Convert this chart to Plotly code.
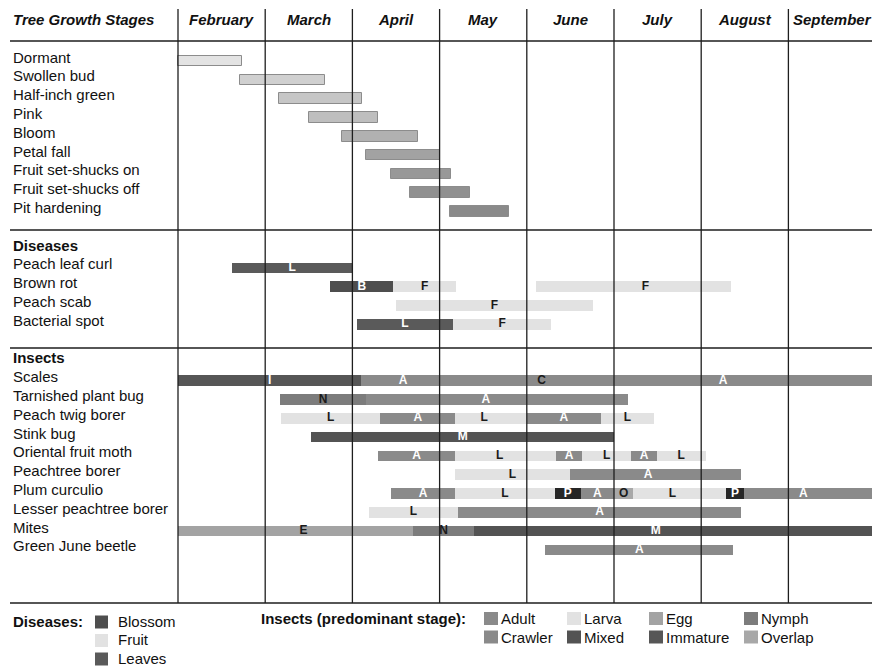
import plotly.graph_objects as go

# ---------------- data ----------------
months = ["February", "March", "April", "May", "June", "July", "August", "September"]

tree_stages = ["Dormant", "Swollen bud", "Half-inch green", "Pink", "Bloom",
               "Petal fall", "Fruit set-shucks on", "Fruit set-shucks off", "Pit hardening"]
tree_start = [0.00, 0.715, 1.155, 1.50, 1.88, 2.155, 2.44, 2.66, 3.12]
tree_end = [0.73, 1.69, 2.11, 2.29, 2.755, 3.00, 3.13, 3.35, 3.80]
tree_colors = ["#e3e3e3", "#d0d0d0", "#c6c6c6", "#bebebe", "#b1b1b1",
               "#a2a2a2", "#989898", "#909090", "#8a8a8a"]

disease_names = ["Peach leaf curl", "Brown rot", "Peach scab", "Bacterial spot"]
# (start, end, stage, label position or None = centre), months from 1 Feb
disease_segments = [
    [(0.62, 2.00, "Leaves", None)],
    [(1.745, 2.47, "Blossom", None), (2.47, 3.19, "Fruit", None), (4.10, 6.34, "Fruit", 5.36)],
    [(2.50, 4.76, "Fruit", None)],
    [(2.05, 3.155, "Leaves", None), (3.155, 4.28, "Fruit", None)],
]

insect_names = ["Scales", "Tarnished plant bug", "Peach twig borer", "Stink bug",
                "Oriental fruit moth", "Peachtree borer", "Plum curculio",
                "Lesser peachtree borer", "Mites", "Green June beetle"]
insect_segments = [
    [(0.00, 2.10, "Immature", None), (2.10, 3.06, "Adult", None),
     (3.06, 5.28, "Crawler", None), (5.28, 8.00, "Adult", 6.25)],
    [(1.17, 2.155, "Nymph", None), (2.155, 5.16, "Adult", 3.53)],
    [(1.18, 2.32, "Larva", None), (2.32, 3.18, "Adult", None), (3.18, 4.00, "Larva", 3.51),
     (4.00, 4.85, "Adult", None), (4.85, 5.46, "Larva", None)],
    [(1.53, 5.00, "Mixed", None)],
    [(2.29, 3.18, "Adult", None), (3.18, 4.34, "Larva", 3.69), (4.34, 4.63, "Adult", None),
     (4.63, 5.20, "Larva", None), (5.20, 5.49, "Adult", None), (5.49, 6.05, "Larva", None)],
    [(3.18, 4.49, "Larva", None), (4.49, 6.46, "Adult", 5.39)],
    [(2.44, 3.18, "Adult", None), (3.18, 4.32, "Larva", None), (4.32, 4.62, "Pupa", None),
     (4.62, 5.00, "Adult", None), (5.00, 5.22, "Overlap", None), (5.22, 6.28, "Larva", 5.67),
     (6.28, 6.495, "Pupa", None), (6.495, 8.00, "Adult", 7.17)],
    [(2.19, 3.21, "Larva", None), (3.21, 6.46, "Adult", None)],
    [(0.00, 2.69, "Egg", 1.44), (2.69, 3.40, "Nymph", None), (3.40, 8.00, "Mixed", 5.48)],
    [(4.21, 6.37, "Adult", None)],
]

stage_letter = {"Adult": "A", "Crawler": "C", "Larva": "L", "Egg": "E", "Nymph": "N",
                "Mixed": "M", "Immature": "I", "Overlap": "O", "Pupa": "P",
                "Blossom": "B", "Fruit": "F", "Leaves": "L"}

disease_legend = ["Blossom", "Fruit", "Leaves"]
insect_legend_row1 = ["Adult", "Larva", "Egg", "Nymph"]
insect_legend_row2 = ["Crawler", "Mixed", "Immature", "Overlap"]

# ---------------- styles ----------------
stage_color = {"Adult": "#8a8a8a", "Crawler": "#8a8a8a", "Larva": "#e2e2e2", "Egg": "#a3a3a3",
               "Nymph": "#7c7c7c", "Mixed": "#535353", "Immature": "#565656", "Overlap": "#a8a8a8",
               "Pupa": "#262626", "Blossom": "#4e4e4e", "Fruit": "#e2e2e2", "Leaves": "#5a5a5a"}
letter_color = {"Adult": "white", "Crawler": "#1a1a1a", "Larva": "#1a1a1a", "Egg": "#1a1a1a",
                "Nymph": "#1a1a1a", "Mixed": "white", "Immature": "white", "Overlap": "#1a1a1a",
                "Pupa": "white", "Blossom": "white", "Fruit": "#1a1a1a", "Leaves": "white"}

W, H = 872, 666
FONT = "Liberation Sans, Arial, Helvetica, sans-serif"
X0_PX, MONTH_PX = 178.0, 87.2          # x-axis: month 0 (1 Feb) at 178 px
ROW0_PX, ROW_PX = 57.0, 18.8           # y-axis in row slots
BAR_OFF, BAR_W = 0.22, 0.57
LINE_C = "#1e1e1e"


def ypaper(px):
    return 1 - px / H


def xpaper(px):
    return px / W


# row slots
tree_slots = list(range(len(tree_stages)))
dis_header_slot = len(tree_stages) + 1
dis_slots = [dis_header_slot + 1 + i for i in range(len(disease_names))]
ins_header_slot = dis_slots[-1] + 2
ins_slots = [ins_header_slot + 1 + i for i in range(len(insect_names))]

fig = go.Figure()

# tree growth stage bars
fig.add_trace(go.Bar(
    orientation="h",
    y=[s + BAR_OFF for s in tree_slots],
    base=tree_start,
    x=[e - s for s, e in zip(tree_start, tree_end)],
    width=BAR_W,
    marker=dict(color=tree_colors, line=dict(color="#8c8c8c", width=1)),
    hoverinfo="skip", showlegend=False,
))

# diseases + insects segments
seg_y, seg_base, seg_len, seg_col = [], [], [], []
lab_x, lab_y, lab_t, lab_c = [], [], [], []
for slots, segs in ((dis_slots, disease_segments), (ins_slots, insect_segments)):
    for slot, row in zip(slots, segs):
        for start, end, stage, lx in row:
            seg_y.append(slot + BAR_OFF)
            seg_base.append(start)
            seg_len.append(end - start)
            seg_col.append(stage_color[stage])
            lab_x.append(lx if lx is not None else (start + end) / 2)
            lab_y.append(slot + BAR_OFF)
            lab_t.append(stage_letter[stage])
            lab_c.append(letter_color[stage])

fig.add_trace(go.Bar(
    orientation="h", y=seg_y, base=seg_base, x=seg_len, width=BAR_W,
    marker=dict(color=seg_col, line=dict(width=0)),
    hoverinfo="skip", showlegend=False,
))
fig.add_trace(go.Scatter(
    x=lab_x, y=lab_y, mode="text", text=lab_t,
    textfont=dict(family=FONT, size=12, color=lab_c, weight="bold"),
    textposition="middle center", hoverinfo="skip", showlegend=False,
))

shapes = []
annotations = []

# grid lines
for k in range(len(months)):
    shapes.append(dict(type="line", xref="x", yref="paper", x0=k, x1=k,
                       y0=ypaper(603), y1=ypaper(9), line=dict(color=LINE_C, width=1.3)))
for py in (41, 230, 348, 603):
    shapes.append(dict(type="line", xref="paper", yref="paper", x0=xpaper(10), x1=1,
                       y0=ypaper(py), y1=ypaper(py), line=dict(color=LINE_C, width=1.3)))

# header
annotations.append(dict(text="<b><i>Tree Growth Stages</i></b>", xref="paper", yref="paper",
                        x=xpaper(11), y=ypaper(20), xanchor="left", yanchor="middle",
                        showarrow=False, font=dict(family=FONT, size=15, color="#111")))
for k, m in enumerate(months):
    annotations.append(dict(text=f"<b><i>{m}</i></b>", xref="x", yref="paper",
                            x=k + 0.5, y=ypaper(20), xanchor="center", yanchor="middle",
                            showarrow=False, font=dict(family=FONT, size=15, color="#111")))


def row_label(text, slot, bold=False):
    annotations.append(dict(text=f"<b>{text}</b>" if bold else text, xref="paper", yref="y",
                            x=xpaper(11), y=slot, xanchor="left", yanchor="middle",
                            showarrow=False, font=dict(family=FONT, size=15, color="#111")))


for name, s in zip(tree_stages, tree_slots):
    row_label(name, s)
row_label("Diseases", dis_header_slot, bold=True)
for name, s in zip(disease_names, dis_slots):
    row_label(name, s)
row_label("Insects", ins_header_slot, bold=True)
for name, s in zip(insect_names, ins_slots):
    row_label(name, s)

# legend: diseases
annotations.append(dict(text="<b>Diseases:</b>", xref="paper", yref="paper",
                        x=xpaper(11), y=ypaper(621), xanchor="left", yanchor="middle",
                        showarrow=False, font=dict(family=FONT, size=15, color="#111")))
for i, st in enumerate(disease_legend):
    cy = 622 + i * 18.5
    shapes.append(dict(type="rect", xref="paper", yref="paper", x0=xpaper(95), x1=xpaper(108),
                       y0=ypaper(cy + 6.5), y1=ypaper(cy - 6.5),
                       fillcolor=stage_color[st], line=dict(width=0)))
    annotations.append(dict(text=st, xref="paper", yref="paper", x=xpaper(116), y=ypaper(cy - 1),
                            xanchor="left", yanchor="middle", showarrow=False,
                            font=dict(family=FONT, size=15, color="#111")))

# legend: insects
annotations.append(dict(text="<b>Insects (predominant stage):</b>", xref="paper", yref="paper",
                        x=xpaper(259), y=ypaper(618), xanchor="left", yanchor="middle",
                        showarrow=False, font=dict(family=FONT, size=15, color="#111")))
col_x = [484, 567, 649, 744]
for r, row in enumerate((insect_legend_row1, insect_legend_row2)):
    cy = 618.5 + r * 18.5
    for cx, st in zip(col_x, row):
        shapes.append(dict(type="rect", xref="paper", yref="paper", x0=xpaper(cx), x1=xpaper(cx + 14),
                           y0=ypaper(cy + 6.5), y1=ypaper(cy - 6.5),
                           fillcolor=stage_color[st], line=dict(width=0)))
        annotations.append(dict(text=st, xref="paper", yref="paper", x=xpaper(cx + 15), y=ypaper(cy),
                                xanchor="left", yanchor="middle", showarrow=False,
                                font=dict(family=FONT, size=15, color="#111")))

fig.update_layout(
    width=W, height=H,
    margin=dict(l=0, r=0, t=0, b=0),
    paper_bgcolor="white", plot_bgcolor="white",
    barmode="overlay", bargap=0,
    xaxis=dict(range=[-X0_PX / MONTH_PX, (W - X0_PX) / MONTH_PX], domain=[0, 1],
               showgrid=False, zeroline=False, showticklabels=False, ticks="", fixedrange=True),
    yaxis=dict(range=[(H - ROW0_PX) / ROW_PX, -ROW0_PX / ROW_PX], domain=[0, 1],
               showgrid=False, zeroline=False, showticklabels=False, ticks="", fixedrange=True),
    shapes=shapes, annotations=annotations,
    showlegend=False,
)

fig.write_html("out.html", config={"displayModeBar": False},
               post_script="document.body.style.margin='0';document.body.style.overflow='hidden';")
